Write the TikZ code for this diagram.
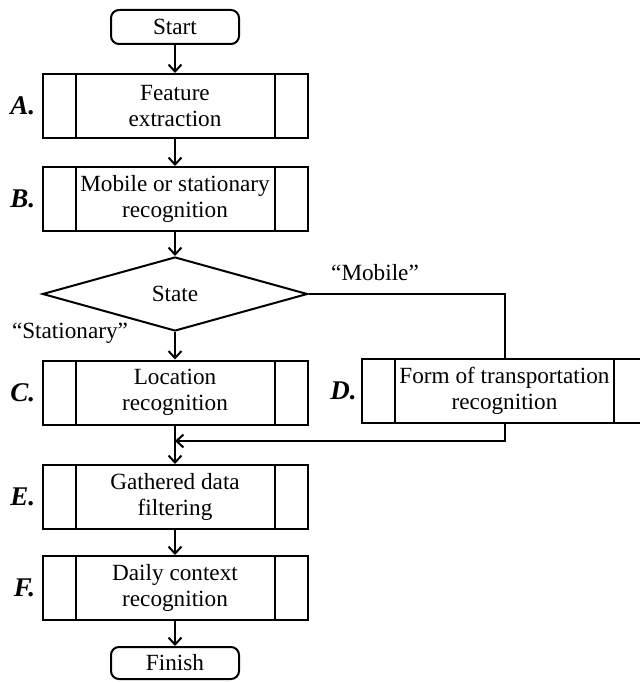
\documentclass[tikz,border=0pt]{standalone}
\usepackage{fontspec}
\setmainfont{Liberation Serif}
\usepackage{tikz}
\usetikzlibrary{positioning,arrows.meta,shapes.geometric,calc}

\tikzset{
  flowline/.style={line width=1pt},
  arr/.style={flowline, -{Straight Barb[length=3.5pt,width=6.5pt,line width=1pt]}},
  term/.style={draw, flowline, rounded corners=4pt, minimum width=64pt,
    minimum height=17pt, inner sep=1pt},
  proc/.style={draw, flowline, minimum width=132.5pt, minimum height=32pt,
    align=center, inner sep=1pt,
    path picture={
      \draw[flowline] ([xshift=16.5pt]path picture bounding box.north west)
        -- ([xshift=16.5pt]path picture bounding box.south west);
      \draw[flowline] ([xshift=-16.5pt]path picture bounding box.north east)
        -- ([xshift=-16.5pt]path picture bounding box.south east);
    }},
  decision/.style={draw, flowline, diamond, minimum width=132.5pt,
    minimum height=37pt, inner sep=0pt},
  steplbl/.style={font=\fontsize{13.5}{15}\selectfont\bfseries\itshape, inner sep=0pt},
}

\begin{document}
\begin{tikzpicture}[x=0.5pt,y=-0.5pt,font=\fontsize{11.6}{13.3}\selectfont]
  \useasboundingbox (0,0) rectangle (640,683);

  % main column
  \node[term] (start) at (175,27) {Start};
  \node[proc] (feat) at (175,106) {Feature\\extraction};
  \node[proc] (mobst) at (175,199) {Mobile or stationary\\recognition};
  \node[decision] (state) at (175,294) {State};
  \node[proc] (loc) at (175,392.5) {Location\\recognition};
  \node[proc, minimum width=142.5pt] (trans) at (504.5,391) {Form of transportation\\recognition};
  \node[proc] (filt) at (175,497) {Gathered data\\filtering};
  \node[proc] (daily) at (175,588) {Daily context\\recognition};
  \node[term, minimum height=16pt] (finish) at (175,663) {Finish};

  % step letters
  \node[steplbl, left=3pt of feat] {A.};
  \node[steplbl, left=3pt of mobst] {B.};
  \node[steplbl, left=3pt of loc] {C.};
  \node[steplbl, left=2pt of trans] {D.};
  \node[steplbl, left=3pt of filt] {E.};
  \node[steplbl, left=3pt of daily] {F.};

  % branch labels
  \node (mob) at (375,273) {``Mobile''};
  \node (stat) at (70,333) {``Stationary''};

  \coordinate (mrg) at (175,441);

  \draw[arr] (start) -- (feat);
  \draw[arr] (feat) -- (mobst);
  \draw[arr] (mobst) -- (state);
  \draw[arr] (state.south) -- (loc);
  \draw[flowline] (state.east) -| (trans.north);
  \draw[arr] (loc) -- (filt);
  \draw[arr] (trans.south) |- (mrg);
  \draw[arr] (filt) -- (daily);
  \draw[arr] (daily) -- (finish);
\end{tikzpicture}
\end{document}
